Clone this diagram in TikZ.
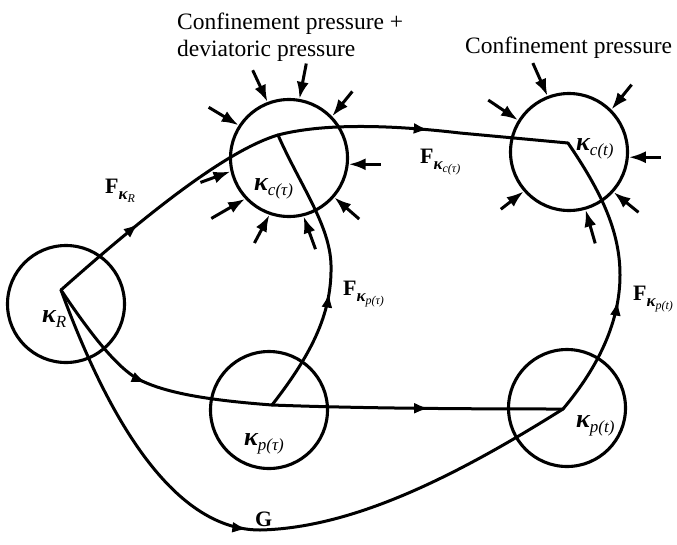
\documentclass[tikz,border=0pt]{standalone}
\usepackage{fontspec}
\setmainfont{Liberation Serif}
\usetikzlibrary{arrows.meta,decorations.markings}
\tikzset{
  circ/.style={circle, draw, line width=3.1pt, minimum size=117pt, inner sep=0pt},
  conn/.style={line width=3pt, line cap=round, line join=round},
  press/.style={line width=3pt, {Latex[length=17pt,width=12pt]}-},
  midarrow/.style={postaction={decorate}, decoration={markings, mark=at position #1 with {\arrow{Latex[length=15pt,width=11pt]}}}},
  lbl/.style={inner sep=0pt, anchor=base west},
  title/.style={inner sep=0pt, anchor=base west, font=\fontsize{23.5}{27}\selectfont},
}
\newcommand{\kl}[1]{{\fontsize{26}{26}\selectfont\bfseries\itshape κ}\raisebox{-5pt}{\fontsize{17}{17}\selectfont\itshape #1}}
\newcommand{\Fl}[1]{{\fontsize{22}{22}\selectfont\bfseries F}\raisebox{-6pt}{\fontsize{17}{17}\selectfont\bfseries\itshape κ\raisebox{-3pt}{\fontsize{12}{12}\selectfont\mdseries #1}}}
\begin{document}
\begin{tikzpicture}[x=1pt,y=1pt]
\useasboundingbox (0,0) rectangle (677,-544);
% circles
\node[circ] (R) at (66,-304) {};
\node[circ] (Ctau) at (289,-158) {};
\node[circ] (Ct) at (569,-152) {};
\node[circ] (Ptau) at (269,-410) {};
\node[circ] (Pt) at (567,-408) {};
% vertices
\coordinate (Rv) at (61,-290);
\coordinate (Ctauv) at (278,-135);
\coordinate (Ctv) at (568,-143);
\coordinate (Ptauv) at (272,-405);
\coordinate (Ptv) at (563,-409);
% connectors
\draw[conn, midarrow=0.38] (Rv) .. controls (151,-210) and (228,-150) .. (Ctauv);
\draw[conn, midarrow=0.52] (Ctauv) .. controls (328,-122) and (400,-126) .. (460,-133) -- (Ctv);
\draw[conn, midarrow=0.43] (Ptauv) .. controls (315,-350) and (332,-310) .. (331,-265) .. controls (330,-225) and (300,-185) .. (Ctauv);
\draw[conn, midarrow=0.42] (Ptv) .. controls (600,-365) and (620,-320) .. (620,-275) .. controls (620,-230) and (600,-190) .. (Ctv);
\draw[conn, midarrow=0.5] (Rv) .. controls (78,-315) and (113,-367) .. (140,-380) .. controls (170,-395) and (220,-401) .. (Ptauv);
\draw[conn, midarrow=0.54] (Ptauv) .. controls (350,-408) and (450,-409) .. (Ptv);
\draw[conn, midarrow=0.48] (Rv) .. controls (105,-410) and (170,-530) .. (260,-530) .. controls (350,-528) and (450,-480) .. (Ptv);
% pressure arrows
\foreach \a/\d/\l in {111/115/35, 80/79/36, 44/51/32, 147/149/35, 354/0/32, 193/200/32, 223/210/39, 251/242/32, 284/290/35, 319/319/33}
  \draw[press] (Ctau.\a) -- ++(\d:\l pt);
\foreach \a/\d/\l in {111/114/36, 45/51/32, 148/146/36, 355/0/32, 221/218/29, 318/321/32, 286/286/35}
  \draw[press] (Ct.\a) -- ++(\d:\l pt);
% labels
\node[title] (t1) at (177,-29) {Confinement pressure +};
\node[title] (t2) at (177,-56) {deviatoric pressure};
\node[title] (t3) at (465,-53) {Confinement pressure};
\node[lbl] (lR) at (42,-322) {\kl{R}};
\node[lbl] (lCtau) at (254,-190) {\kl{c(τ)}};
\node[lbl] (lCt) at (576,-150) {\kl{c(t)}};
\node[lbl] (lPtau) at (244,-445) {\kl{p(τ)}};
\node[lbl] (lPt) at (576,-427) {\kl{p(t)}};
\node[lbl] (fR) at (105,-193) {\Fl{\itshape R}};
\node[lbl] (fCtau) at (420,-163) {\Fl{c(τ)}};
\node[lbl] (fPtau) at (343,-295) {\Fl{p(τ)}};
\node[lbl] (fPt) at (633,-300) {\Fl{p(t)}};
\node[lbl] (G) at (255,-526) {\fontsize{22}{22}\selectfont\bfseries G};
\end{tikzpicture}
\end{document}
